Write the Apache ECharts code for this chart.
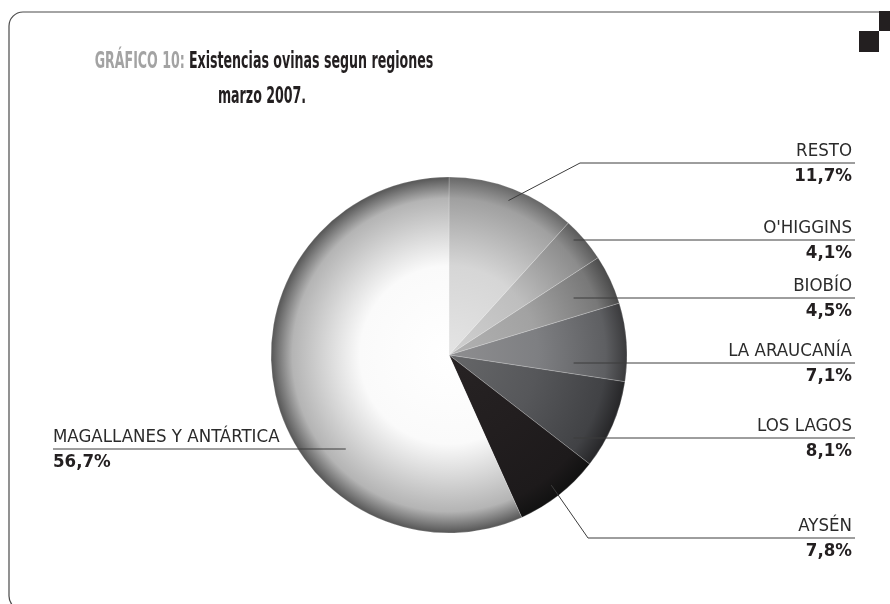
<!DOCTYPE html>
<html>
<head>
<meta charset="utf-8">
<script src="https://cdn.jsdelivr.net/npm/echarts@6/dist/echarts.min.js"></script>
<style>
  html, body { margin: 0; padding: 0; background: #fff; }
  #main { width: 890px; height: 604px; }
</style>
</head>
<body>
<div id="main"></div>
<script>
const regiones = ['RESTO', "O'HIGGINS", 'BIOBÍO', 'LA ARAUCANÍA', 'LOS LAGOS', 'AYSÉN', 'MAGALLANES Y ANTÁRTICA']
const porcentajes = [11.7, 4.1, 4.5, 7.1, 8.1, 7.8, 56.7]

// tonos de cada tajada (centro -> borde)
const tonos = [
  ['#e4e4e4', '#d6d6d6', '#a0a0a0', '#666666'],
  ['#d0d0d0', '#bebebe', '#8c8c8c', '#5a5a5a'],
  ['#b2b2b2', '#a2a2a2', '#787878', '#4a4a4a'],
  ['#8e8e90', '#7e7f82', '#5e5f62', '#3a3a3c'],
  ['#666769', '#56575a', '#414245', '#262628'],
  ['#272324', '#221e1f', '#1d1a1b', '#111111'],
  ['#ffffff', '#fafafa', '#b4b4b4', '#555555']
]

const cx = 449, cy = 355, R = 178
const FONT = "'Liberation Sans Narrow', 'DejaVu Sans Condensed', 'Roboto', sans-serif"

// posicion de cada etiqueta: y de la linea, codo (si hay)
const etiquetas = [
  { y: 163, codo: 580, k: 0.93 },
  { y: 240 },
  { y: 298 },
  { y: 363 },
  { y: 438 },
  { y: 538, codo: 588, k: 0.93 },
  { y: 449, izq: true }
]

// angulos medios de cada tajada (desde arriba, sentido horario)
const total = porcentajes.reduce((a, b) => a + b, 0)
let acc = 0
const angMedio = porcentajes.map(v => {
  const a = (acc + v / 2) / total * Math.PI * 2
  acc += v
  return a
})

function grad(t) {
  return {
    type: 'radial', x: cx, y: cy, r: R, global: true,
    colorStops: [
      { offset: 0, color: t[0] },
      { offset: 0.5, color: t[1] },
      { offset: 0.88, color: t[2] },
      { offset: 1, color: t[3] }
    ]
  }
}

const datos = regiones.map((r, i) => ({ name: r, value: porcentajes[i] }))

const main = document.getElementById('main')
let myChart = echarts.init(main, null, { renderer: 'canvas' })

myChart.setOption({
  animation: false,
  graphic: [
    {
      type: 'rect', silent: true,
      shape: { x: 9, y: 12, width: 960, height: 598, r: 14 },
      style: { fill: null, stroke: '#4a4a4a', lineWidth: 1.2 }
    },
    { type: 'rect', shape: { x: 879, y: 11, width: 11, height: 20 }, style: { fill: '#231f20' } },
    { type: 'rect', shape: { x: 859, y: 31, width: 20, height: 21 }, style: { fill: '#231f20' } },
    {
      type: 'text', x: 264, y: 62, scaleX: 0.61,
      style: {
        x: 0, y: 0, align: 'center', verticalAlign: 'middle',
        text: '{g|GRÁFICO 10:}  {b|Existencias ovinas segun regiones}',
        rich: {
          g: { fontFamily: FONT, fontSize: 23, fontWeight: 'bold', fill: '#a3a3a3' },
          b: { fontFamily: FONT, fontSize: 23, fontWeight: 'bold', fill: '#231f20' }
        }
      }
    },
    {
      type: 'text', x: 262, y: 97, scaleX: 0.61,
      style: {
        x: 0, y: 0, align: 'center', verticalAlign: 'middle',
        text: 'marzo 2007.',
        fontFamily: FONT, fontSize: 23, fontWeight: 'bold', fill: '#231f20'
      }
    }
  ],
  series: [
    {
      // tajadas
      type: 'pie',
      center: [cx, cy],
      radius: R,
      startAngle: 90,
      clockwise: true,
      silent: true,
      label: { show: false },
      labelLine: { show: false },
      itemStyle: { borderColor: 'rgba(255,255,255,0.35)', borderWidth: 0.6 },
      data: datos.map((d, i) => ({ ...d, itemStyle: { color: grad(tonos[i]) } }))
    },
    {
      // etiquetas y lineas encima de las tajadas
      type: 'pie',
      z: 5,
      center: [cx, cy],
      radius: R,
      startAngle: 90,
      clockwise: true,
      silent: true,
      avoidLabelOverlap: false,
      itemStyle: { color: 'rgba(0,0,0,0)' },
      label: {
        show: true,
        formatter: p => `{n|${p.name}}\n{v|${String(p.value).replace('.', ',')}%}`,
        rich: {
          n: { fontFamily: FONT, fontSize: 18.5, color: '#2b2b2b', lineHeight: 25 },
          v: { fontFamily: FONT, fontSize: 18.5, fontWeight: 'bold', color: '#231f20', lineHeight: 25 }
        }
      },
      labelLine: {
        show: true,
        lineStyle: { color: '#3c3c3c', width: 1 }
      },
      labelLayout: function (p) {
        const i = p.dataIndex
        const e = etiquetas[i]
        let pts
        if (e.izq) {
          pts = [[cx - 0.58 * R, e.y], [cx - 0.58 * R, e.y], [53, e.y]]
          return { x: 53, y: e.y + 1, align: 'left', verticalAlign: 'middle', labelLinePoints: pts }
        }
        if (e.codo) {
          const a = angMedio[i]
          const s = [cx + R * e.k * Math.sin(a), cy - R * e.k * Math.cos(a)]
          pts = [s, [e.codo, e.y], [855, e.y]]
        } else {
          const sx = cx + 0.7 * R
          pts = [[sx, e.y], [sx, e.y], [855, e.y]]
        }
        return { x: 852, y: e.y + 1, align: 'right', verticalAlign: 'middle', labelLinePoints: pts }
      },
      data: datos
    }
  ]
})
</script>
</body>
</html>
